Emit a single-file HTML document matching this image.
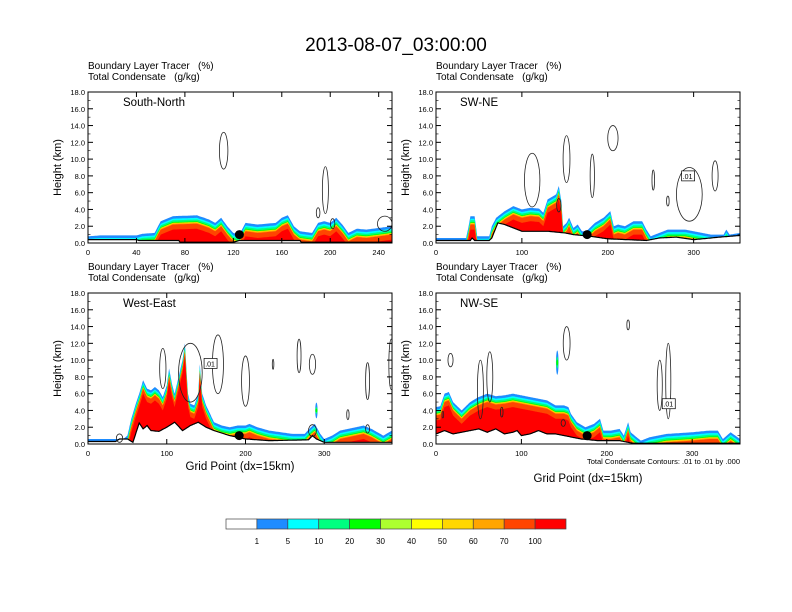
<!DOCTYPE html>
<html><head><meta charset="utf-8"><style>
html,body{margin:0;padding:0;background:#fff;}
svg{display:block;font-family:"Liberation Sans",Helvetica,sans-serif;}
</style></head><body>
<svg id="fig" width="792" height="612" viewBox="0 0 792 612" xmlns="http://www.w3.org/2000/svg">
<text x="396" y="51" font-size="19" text-anchor="middle">2013-08-07_03:00:00</text>
</svg>
<script>
// ---- data ----
const levelColors=["#ffffff","#1e8cff","#00ffff","#00ff80","#00ff00","#adff2f","#ffff00","#ffd700","#ffa500","#ff4500","#ff0000"];
const levelLabels=["1","5","10","20","30","40","50","60","70","100"];
const bandOffsets=[0,0.3,0.5,0.7,0.8,0.9,1.0,1.6];
const bandColors=["#1e8cff","#00ffff","#00ff80","#00ff00","#ffd700","#ffa500","#ff4500","#ff0000"];
const yTicks=[0,2,4,6,8,10,12,14,16,18];

const snTopX=[0,10,40,45,55,60,70,90,100,105,110,115,120,125,130,140,155,160,165,170,175,185,190,195,200,205,210,215,222,230,251];
const snTopH=[0.8,0.9,0.9,1.1,1.2,2.6,3.2,3.3,2.8,2.4,3.0,2.0,1.2,1.0,2.4,2.2,2.4,3.0,3.3,2.0,1.4,1.2,2.4,2.6,2.4,3.0,2.2,1.2,1.7,1.6,2.0];
const snTerX=[0,40,42,75,76,120,125,175,176,251];
const snTerH=[0.4,0.4,0.3,0.3,0.1,0.1,0.3,0.3,0.1,0.1];
const snCont=[[112,11.0,3.5,2.2],[196,6.3,2.5,2.8],[190,3.6,1.5,0.6],[202,2.3,1.8,0.6],[245,2.3,6,0.9]];

const swTopX=[0,35,38,40,45,48,62,65,70,80,90,100,110,120,125,130,135,140,143,146,148,152,155,160,165,170,175,185,195,203,207,212,220,230,240,245,250,260,270,290,300,320,335,338,342,354];
const swTopH=[0.6,0.6,2.0,3.2,3.2,0.8,0.8,2.0,3.0,3.8,4.4,4.0,4.2,4.1,3.6,5.2,5.5,5.8,6.8,5.0,2.0,2.4,3.0,1.8,2.2,1.4,1.4,2.4,3.0,3.8,2.0,2.2,2.0,2.6,2.6,1.6,0.8,1.2,1.6,1.6,1.4,1.0,1.0,1.6,1.0,1.2];
const swTerX=[0,40,42,45,62,65,72,80,90,100,120,130,150,160,180,200,245,260,280,300,330,354];
const swTerH=[0.3,0.3,0.6,0.3,0.3,0.6,2.4,2.2,1.8,1.4,1.4,1.4,1.2,1.0,0.8,0.5,0.3,0.6,0.7,0.4,0.7,0.9];
const swCont=[[112,7.5,9,3.2],[152,10.0,4,2.8],[182,8.0,2.5,2.6],[206,12.5,6,1.5],[253,7.5,1.5,1.2],[270,5.0,1.5,0.6],[295,5.8,15,3.2],[325,8.0,3.5,1.8],[143,4.5,2.5,0.8]];

const weTopX=[0,20,45,50,55,60,65,70,75,80,85,90,95,100,103,107,110,115,120,123,127,130,135,140,142,145,150,155,160,170,180,190,200,205,215,230,245,260,275,283,288,295,300,310,320,340,350,360,375,386];
const weTopH=[0.6,0.6,0.6,1.0,3.0,4.6,6.0,7.6,6.6,6.4,6.8,6.4,5.6,7.0,9.0,7.0,6.0,8.0,10.0,12.0,6.0,4.8,4.6,6.0,9.5,6.0,4.6,3.6,2.6,2.2,2.0,2.2,2.2,2.4,2.0,1.6,1.4,1.2,1.2,2.0,2.4,1.2,0.6,1.0,1.6,2.0,2.2,1.8,1.0,1.6];
const weTerX=[0,35,40,50,57,65,70,75,80,90,100,110,120,130,140,150,160,180,200,230,280,285,290,300,386];
const weTerH=[0.3,0.3,0.6,0.6,0.2,2.5,1.8,2.2,1.6,1.5,2.0,2.6,1.6,2.2,2.6,2.0,1.6,1.0,0.6,0.4,0.5,1.0,0.6,0.2,0.2];
const weCont=[[95,9.0,4,2.4],[130,8.5,15,3.5],[165,9.5,7,3.5],[200,7.5,5,3.0],[235,9.5,1,0.6],[268,10.5,2.5,2],[285,9.5,4,1.2],[330,3.5,1.5,0.6],[355,1.8,2.5,0.5],[355,7.5,2.5,2.2],[385,9.5,3,3],[285,1.6,5,0.7],[40,0.7,4,0.5]];

const nwTopX=[0,5,10,15,20,30,40,50,60,70,80,90,100,110,120,130,140,150,155,158,165,175,185,192,196,205,215,220,225,228,235,240,250,270,300,320,330,336,345,356];
const nwTopH=[4.4,4.5,6.0,6.2,5.0,4.0,5.0,5.6,6.0,5.7,5.8,6.0,5.8,5.6,5.4,5.2,4.6,4.6,4.4,3.6,2.6,2.0,2.4,3.0,1.6,1.6,1.8,1.0,2.6,1.4,0.8,0.4,0.8,1.2,1.4,1.6,1.6,0.6,1.4,0.6];
const nwTerX=[0,10,20,30,40,50,60,70,80,90,95,100,110,120,130,140,150,170,190,215,230,356];
const nwTerH=[1.2,1.6,1.2,1.4,1.6,1.8,1.4,1.8,1.2,1.4,1.6,1.0,1.2,1.6,1.2,1.2,1.0,0.6,0.4,0.4,0.1,0.1];
const nwCont=[[17,10,3,0.8],[52,6.5,3.5,3.5],[63,8,3.5,3],[77,3.8,1.5,0.6],[153,12,4,2],[225,14.2,1.5,0.6],[262,7,3,3],[272,7.5,3,4.5],[149,2.5,2.5,0.4],[8,3.5,1,0.4]];

const panels=[
 {name:"south-north",label:"South-North",x0:88,y0:92,xmax:251,xt:[0,40,80,120,160,200,240],topX:snTopX,topH:snTopH,terX:snTerX,terH:snTerH,cont:snCont,dot:[125,1.0],box:null,blob:null,xlab:false},
 {name:"sw-ne",label:"SW-NE",x0:436,y0:92,xmax:354,xt:[0,100,200,300],topX:swTopX,topH:swTopH,terX:swTerX,terH:swTerH,cont:swCont,dot:[176,1.0],box:[293,8.0],blob:null,xlab:false},
 {name:"west-east",label:"West-East",x0:88,y0:293,xmax:386,xt:[0,100,200,300],topX:weTopX,topH:weTopH,terX:weTerX,terH:weTerH,cont:weCont,dot:[192,1.0],box:[155,9.6],blob:[290,4.0,1.5,0.7],xlab:true},
 {name:"nw-se",label:"NW-SE",x0:436,y0:293,xmax:356,xt:[0,100,200,300],topX:nwTopX,topH:nwTopH,terX:nwTerX,terH:nwTerH,cont:nwCont,dot:[177,1.0],box:[272,4.8],blob:[142,9.7,1.5,1.2],xlab:true}
];
const NS="http://www.w3.org/2000/svg";
const svg=document.getElementById("fig");
function mk(t,a,p){const e=document.createElementNS(NS,t);for(const k in a)e.setAttribute(k,a[k]);(p||svg).appendChild(e);return e;}
function interp(xs,hs,x){if(x<=xs[0])return hs[0];for(let i=1;i<xs.length;i++){if(x<=xs[i]){const t=(x-xs[i-1])/(xs[i]-xs[i-1]);return hs[i-1]+t*(hs[i]-hs[i-1]);}}return hs[hs.length-1];}

panels.forEach((P,pi)=>{
 const W=304,H=151;
 const sx=v=>P.x0+v/P.xmax*W;
 const sy=v=>P.y0+H-v/18*H;
 const g=mk("g",{});
 
 
 const t1=mk("text",{x:P.x0,y:P.y0-23,"font-size":"10"},g);t1.textContent="Boundary Layer Tracer\u00a0\u00a0\u00a0(%)";
 
 
 const t2=mk("text",{x:P.x0,y:P.y0-12,"font-size":"10"},g);t2.textContent="Total Condensate\u00a0\u00a0\u00a0(g/kg)";
 
 
 const clipId="clip"+pi;
 const cp=mk("clipPath",{id:clipId},g);mk("rect",{x:P.x0,y:P.y0,width:W,height:H},cp);
 const inner=mk("g",{"clip-path":"url(#"+clipId+")"},g);
 const xs=[];for(let x=0;x<=P.xmax;x+=1)xs.push(x);
 bandOffsets.forEach((off,bi)=>{
  let pts=[];
  xs.forEach(x=>{const tp=interp(P.topX,P.topH,x),tr=interp(P.terX,P.terH,x);pts.push([sx(x),sy(Math.max(tr,tp-off))]);});
  for(let i=xs.length-1;i>=0;i--){pts.push([sx(xs[i]),sy(interp(P.terX,P.terH,xs[i]))]);}
  const pg=mk("polygon",{points:pts.map(p=>p[0].toFixed(1)+","+p[1].toFixed(1)).join(" "),fill:bandColors[bi]},inner);
  
  
 });
 if(P.blob){const b=P.blob;
  [["#1e8cff",1],["#00ff80",0.6],["#00ff00",0.3]].forEach(([c,f])=>{const e=mk("ellipse",{cx:sx(b[0]),cy:sy(b[1]),rx:Math.max(1,b[2]/P.xmax*W*f),ry:b[3]/18*H*f+(f===1?2:0),fill:c},inner);
  
  });}
 let tp=[];xs.forEach(x=>tp.push(sx(x).toFixed(1)+","+sy(interp(P.terX,P.terH,x)).toFixed(1)));
 const tw=mk("polygon",{points:tp.join(" ")+" "+sx(P.xmax)+","+sy(0)+" "+sx(0)+","+sy(0),fill:"#fff"},inner);
 
 
 const tl=mk("polyline",{points:tp.join(" "),fill:"none",stroke:"#000","stroke-width":"1.2"},inner);
 
 
 P.cont.forEach(c=>{const e=mk("ellipse",{cx:sx(c[0]),cy:sy(c[1]),rx:c[2]/P.xmax*W,ry:c[3]/18*H,fill:"none",stroke:"#222","stroke-width":"0.8"},inner);
  
  });
 if(P.box){const bx=sx(P.box[0]),by=sy(P.box[1]);
  const r=mk("rect",{x:bx-6,y:by-5,width:13,height:10,fill:"#fff",stroke:"#000","stroke-width":"0.7"},inner);
  
  
  const tt=mk("text",{x:bx,y:by+3,"font-size":"7","text-anchor":"middle"},inner);tt.textContent=".01";
  
  }
 const d=mk("circle",{cx:sx(P.dot[0]),cy:sy(P.dot[1]),r:4.5,fill:"#000"},inner);
 
 
 const fr=mk("rect",{x:P.x0,y:P.y0,width:W,height:H,fill:"none",stroke:"#000","stroke-width":"1"},g);
 
 
 const lb=mk("text",{x:P.x0+(pi%2?24:35),y:P.y0+14,"font-size":"11.5"},g);lb.textContent=P.label;
 
 
 yTicks.forEach(v=>{const y=sy(v);
  mk("line",{x1:P.x0,x2:P.x0+5,y1:y,y2:y,stroke:"#000"},g);
  mk("line",{x1:P.x0+W,x2:P.x0+W-5,y1:y,y2:y,stroke:"#000"},g);
  if(v<18){mk("line",{x1:P.x0,x2:P.x0+2.5,y1:sy(v+1),y2:sy(v+1),stroke:"#000","stroke-width":"0.6"},g);mk("line",{x1:P.x0+W,x2:P.x0+W-2.5,y1:sy(v+1),y2:sy(v+1),stroke:"#000","stroke-width":"0.6"},g);}
  const t=mk("text",{x:P.x0-3,y:y+3,"font-size":"7.5","text-anchor":"end"},g);t.textContent=v.toFixed(1);
  
  });
 P.xt.forEach(v=>{const x=sx(v);
  mk("line",{x1:x,x2:x,y1:P.y0+H,y2:P.y0+H-5,stroke:"#000"},g);
  mk("line",{x1:x,x2:x,y1:P.y0,y2:P.y0+5,stroke:"#000"},g);
  const t=mk("text",{x:x,y:P.y0+H+12,"font-size":"7.5","text-anchor":"middle"},g);t.textContent=v;
  
  });
 const yl=mk("text",{x:0,y:0,"font-size":"11","text-anchor":"middle",transform:"translate("+(P.x0-27)+","+(P.y0+H/2)+") rotate(-90)"},g);yl.textContent="Height (km)";
 
 
 if(P.xlab){const xl=mk("text",{x:P.x0+W/2,y:P.y0+H+(pi==3?38:26),"font-size":"11.5","text-anchor":"middle"},g);xl.textContent="Grid Point (dx=15km)";
  
  }
 if(pi==3){const n=mk("text",{x:P.x0+W,y:P.y0+H+20,"font-size":"7.5","text-anchor":"end"},g);n.textContent="Total Condensate Contours: .01 to .01 by .000";
  
  }
});
const cb=mk("g",{});


const cbX=226,cbW=340/levelColors.length;
levelColors.forEach((c,i)=>{const r=mk("rect",{x:cbX+i*cbW,y:519,width:cbW,height:10,fill:c,stroke:"#444","stroke-width":"0.7"},cb);
 
 });
levelLabels.forEach((l,i)=>{const t=mk("text",{x:cbX+(i+1)*cbW,y:544,"font-size":"8","text-anchor":"middle"},cb);t.textContent=l;
 
 });
</script>
</body></html>
